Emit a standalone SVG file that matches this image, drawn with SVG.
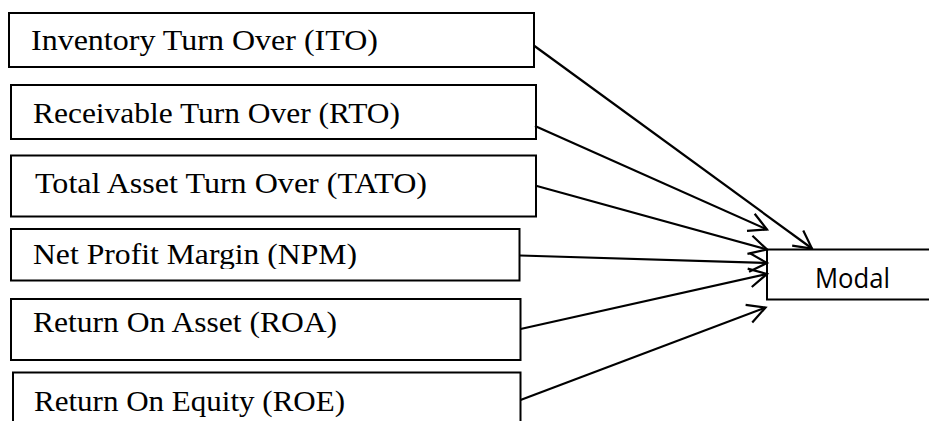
<svg xmlns="http://www.w3.org/2000/svg" width="929" height="421" viewBox="0 0 929 421">
<style>
.box{fill:#fff;stroke:#000;stroke-width:2}
.lbl{font-family:"Liberation Serif","Times New Roman",serif;font-size:30px;fill:#000}
.mlbl{font-family:"Open Sans","Liberation Sans",sans-serif;font-size:27px;fill:#000}
.con{stroke:#000;stroke-width:2.2;fill:none}
</style>
<defs>
<marker id="arr" markerUnits="userSpaceOnUse" markerWidth="30" markerHeight="30" viewBox="-24 -15 30 30" refX="0" refY="0" orient="auto" overflow="visible">
<path d="M-17.7,-9.4 L0,0 L-17.7,9.4" fill="none" stroke="#000" stroke-width="2.2"/>
</marker>
<clipPath id="npmclip"><rect x="12" y="230" width="506" height="39"/></clipPath>
</defs>
<rect width="929" height="421" fill="#fff"/>
<g id="ito"><rect class="box" x="9" y="13" width="525" height="54"/><text class="lbl" x="31" y="50" textLength="347" lengthAdjust="spacingAndGlyphs">Inventory Turn Over (ITO)</text></g>
<g id="rto"><rect class="box" x="11" y="85" width="525" height="54"/><text class="lbl" x="33" y="123" textLength="367" lengthAdjust="spacingAndGlyphs">Receivable Turn Over (RTO)</text></g>
<g id="tato"><rect class="box" x="11" y="155.5" width="525" height="61"/><text class="lbl" x="35" y="193" textLength="392" lengthAdjust="spacingAndGlyphs">Total Asset Turn Over (TATO)</text></g>
<g id="npm"><rect class="box" x="11" y="229" width="508.5" height="51.5"/><text class="lbl" x="33" y="264" textLength="324" lengthAdjust="spacingAndGlyphs" clip-path="url(#npmclip)">Net Profit Margin (NPM)</text></g>
<g id="roa"><rect class="box" x="11" y="299" width="509.5" height="61"/><text class="lbl" x="33" y="332" textLength="304" lengthAdjust="spacingAndGlyphs">Return On Asset (ROA)</text></g>
<g id="roe"><rect class="box" x="13" y="372.5" width="507.5" height="60"/><text class="lbl" x="34" y="411" textLength="311" lengthAdjust="spacingAndGlyphs">Return On Equity (ROE)</text></g>
<g id="modal"><rect class="box" x="767" y="249.5" width="200" height="50" stroke-width="1.6"/><text class="mlbl" x="815" y="287.5" textLength="75" lengthAdjust="spacingAndGlyphs">Modal</text></g>
<g id="connectors">
<line class="con" x1="534.5" y1="46" x2="812" y2="248.5" marker-end="url(#arr)"/>
<line class="con" x1="535" y1="126" x2="767" y2="229.5" marker-end="url(#arr)"/>
<line class="con" x1="536" y1="185.7" x2="767" y2="249.5" marker-end="url(#arr)"/>
<line class="con" x1="520" y1="255.5" x2="767" y2="263" marker-end="url(#arr)"/>
<line class="con" x1="520.5" y1="329" x2="767" y2="274" marker-end="url(#arr)"/>
<line class="con" x1="520.5" y1="400" x2="765.5" y2="307.5" marker-end="url(#arr)"/>
</g>
</svg>
